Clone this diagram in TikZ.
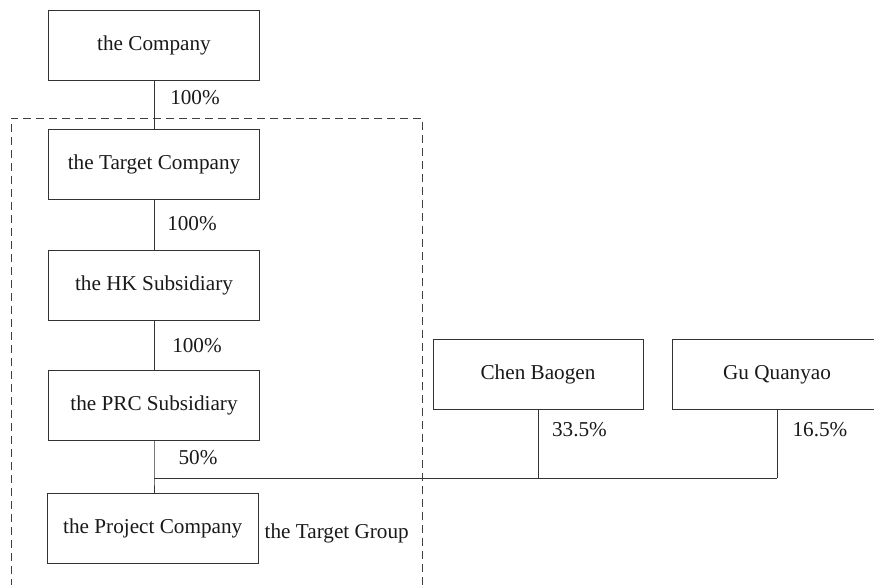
\documentclass[tikz,border=0pt]{standalone}
\usepackage{fontspec}
\setmainfont{Liberation Serif}
\begin{document}
\begin{tikzpicture}[x=1pt,y=-1pt,
  box/.style={draw=black!80,line width=1pt,rectangle,minimum width=211pt,minimum height=70pt,inner sep=0pt,font=\fontsize{21.2}{25}\selectfont,text=black!90},
  lbl/.style={font=\fontsize{21.2}{25}\selectfont,text=black!90,inner sep=0pt},
  conn/.style={draw=black!80,line width=1pt},
  grp/.style={draw=black!75,line width=0.9pt,dash pattern=on 8pt off 5pt}]
\useasboundingbox (0,0) rectangle (874,585);
\clip (0,0) rectangle (874,585);
% dashed group outline (open at the bottom, beyond the picture)
\coordinate (g1) at (11,600);
\coordinate (g2) at (11,118);
\coordinate (g3) at (422,118);
\coordinate (g4) at (422,600);
\draw[grp] (g1) -- (g2) -- (g3) -- (g4);
% boxes
\node[box] (co) at (154,45.3) {the Company};
\node[box] (tc) at (154,164.5) {the Target Company};
\node[box] (hk) at (154,285) {the HK Subsidiary};
\node[box] (prc) at (154,405) {the PRC Subsidiary};
\node[box] (pc) at (152.7,528) {the Project Company};
\node[box,minimum width=210pt] (chen) at (538,374.3) {Chen Baogen};
\node[box,minimum width=210pt] (gu) at (777,374.3) {Gu Quanyao};
% connectors
\coordinate (j) at (154,478.3);
\draw[conn] (co.south) -- (tc.north);
\draw[conn] (tc.south) -- (hk.north);
\draw[conn] (hk.south) -- (prc.north);
\draw[conn] (prc.south) -- (j) -- (j |- pc.north);
\draw[conn] (j) -- (j -| gu.south);
\draw[conn] (chen.south) -- (chen.south |- j);
\draw[conn] (gu.south) -- (gu.south |- j);
% labels
\node[lbl] (l1) at (195,98) {100\%};
\node[lbl] (l2) at (192,224) {100\%};
\node[lbl] (l3) at (197,346) {100\%};
\node[lbl] (l4) at (198,458) {50\%};
\node[lbl] (l5) at (579.5,430) {33.5\%};
\node[lbl] (l6) at (820,430) {16.5\%};
\node[lbl] (tg) at (336.7,533) {the Target Group};
\end{tikzpicture}
\end{document}
